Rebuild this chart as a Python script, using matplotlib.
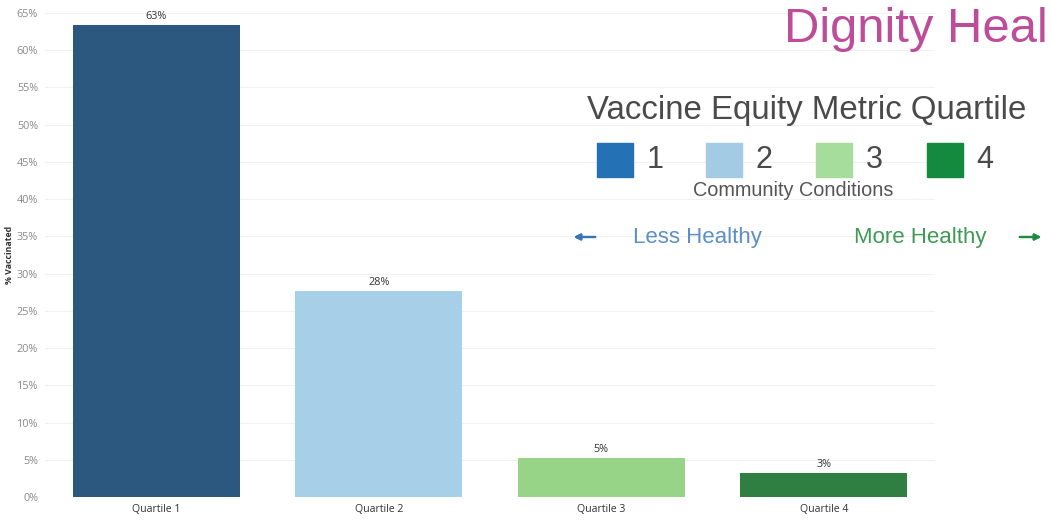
import matplotlib.pyplot as plt
from matplotlib.patches import Rectangle

categories = ['Quartile 1', 'Quartile 2', 'Quartile 3', 'Quartile 4']
pct_vaccinated = [63.4, 27.7, 5.2, 3.2]
bar_colors = ['#2c5880', '#a8cfe8', '#98d488', '#2f7f42']
legend_labels = ['1', '2', '3', '4']
legend_colors = ['#2471b5', '#a3cbe3', '#a6dc9c', '#138a3d']
y_ticks = list(range(0, 70, 5))

plt.rcParams['font.family'] = ['Open Sans', 'DejaVu Sans']

fig = plt.figure(figsize=(10.51, 5.23), dpi=100)
ax = fig.add_axes([45 / 1051, 1 - 497 / 523, 890 / 1051, 484 / 523])

x = range(len(categories))
ax.bar(x, pct_vaccinated, width=0.75, color=bar_colors, zorder=2)
for xi, v in zip(x, pct_vaccinated):
    ax.text(xi, v + 0.4, f'{round(v)}%', ha='center', va='bottom',
            fontsize=7.8, color='#333333')

ax.set_xlim(-0.5, 3.5)
ax.set_ylim(0, 65)
ax.set_yticks(y_ticks)
ax.set_yticklabels([f'{t}%' for t in y_ticks], fontsize=7.8, color='#8a8a8a')
ax.set_xticks(list(x))
ax.set_xticklabels(categories, fontsize=7.6, color='#333333')
ax.tick_params(axis='both', length=0, pad=5)
ax.grid(axis='y', color='#f1f1f1', linewidth=0.8, zorder=0)
for s in ax.spines.values():
    s.set_visible(False)
ax.set_ylabel('% Vaccinated', fontsize=6.3, color='#333333', fontweight='bold')
ax.yaxis.set_label_coords(-0.035, 0.5)

# legend / annotation block drawn in figure pixels
W, H = 1051, 523
def fx(px):
    return px / W
def fy(py):
    return 1 - py / H

arial = ['Liberation Sans', 'DejaVu Sans']
fig.text(fx(1048), fy(30), 'Dignity Heal', ha='right', va='center',
         fontsize=35.3, color='#bd4c9a', family=arial)
fig.text(fx(807), fy(110), 'Vaccine Equity Metric Quartile', ha='center',
         va='center', fontsize=23.8, color='#4a4a4a', family=arial)

sq_left = [597, 706, 816, 927]
for lx, lab, col in zip(sq_left, legend_labels, legend_colors):
    fig.patches.append(Rectangle((fx(lx), fy(177)), 36 / W, 34 / H,
                                 transform=fig.transFigure, color=col))
    fig.text(fx(lx + 58), fy(160), lab, ha='center', va='center',
             fontsize=22, color='#4a4a4a', family=arial)

fig.text(fx(793), fy(190), 'Community Conditions', ha='center', va='center',
         fontsize=14.3, color='#555555', family=arial)
fig.text(fx(697), fy(237), 'Less Healthy', ha='center', va='center',
         fontsize=16, color='#5b8fc6', family=arial)
fig.text(fx(920), fy(237), 'More Healthy', ha='center', va='center',
         fontsize=16, color='#3f9a58', family=arial)
fig.add_artist(plt.annotate('', xy=(fx(571), fy(237)), xytext=(fx(598), fy(237)),
                            xycoords='figure fraction',
                            arrowprops=dict(arrowstyle='-|>', color='#3a76b4',
                                            lw=1.6, mutation_scale=9)))
fig.add_artist(plt.annotate('', xy=(fx(1044), fy(237)), xytext=(fx(1017), fy(237)),
                            xycoords='figure fraction',
                            arrowprops=dict(arrowstyle='-|>', color='#1f8c40',
                                            lw=1.6, mutation_scale=9)))

fig.savefig('out.png', dpi=100)
